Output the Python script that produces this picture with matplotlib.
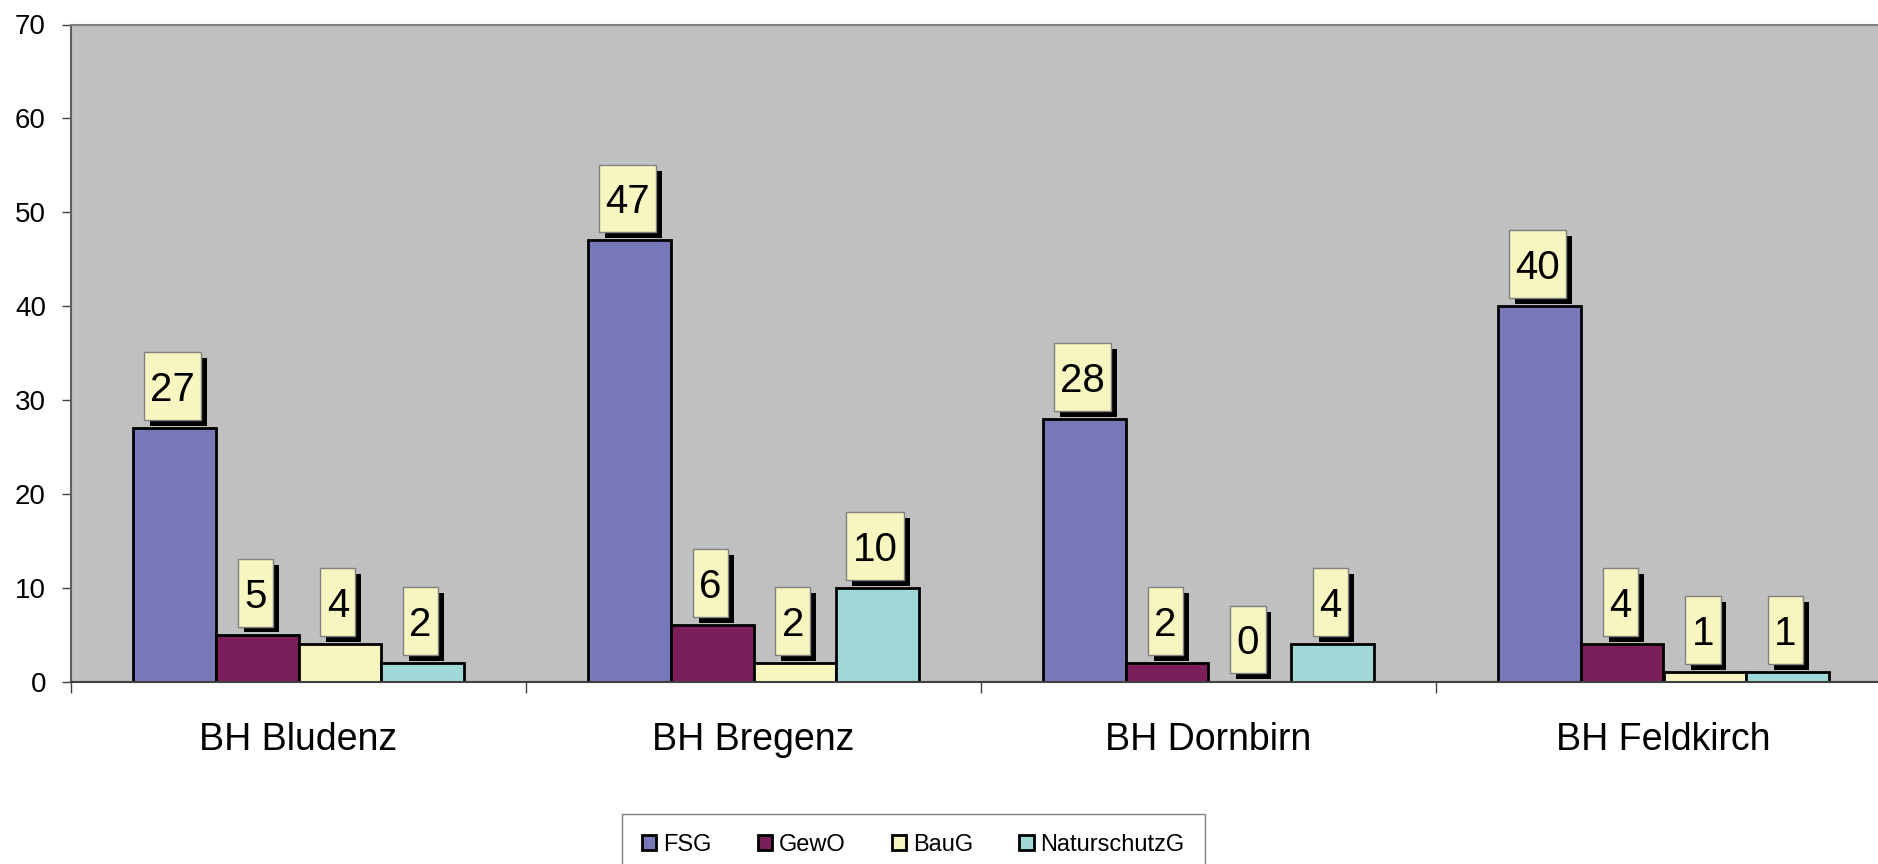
import matplotlib.pyplot as plt
import matplotlib.patheffects as pe
from matplotlib.path import Path
import numpy as np

plt.rcParams['font.family'] = ['Liberation Sans', 'DejaVu Sans']

categories = ['BH Bludenz', 'BH Bregenz', 'BH Dornbirn', 'BH Feldkirch']
series = ['FSG', 'GewO', 'BauG', 'NaturschutzG']
fsg = [27, 47, 28, 40]
gewo = [5, 6, 2, 4]
baug = [4, 2, 0, 1]
natur = [2, 10, 4, 1]
colors = ['#7878B8', '#7B1F5A', '#F8F6C0', '#A0D8D8']


def label_box(x0, y0, width, height, mutation_size):
    # tall box around the digits, like the old Excel data labels
    ms = mutation_size
    px = 0.16 * ms
    cy = y0 + 0.21 * ms + 0.358 * ms
    hh = 0.84 * ms
    return Path([(x0 - px, cy - hh), (x0 + width + px, cy - hh),
                 (x0 + width + px, cy + hh), (x0 - px, cy + hh),
                 (x0 - px, cy - hh)], closed=True)


fig = plt.figure(figsize=(18.78, 8.64), dpi=100)
ax = fig.add_axes([71 / 1878, 182.5 / 864, 1820 / 1878, 657 / 864])
ax.set_facecolor('#C0C0C0')

x = np.arange(len(categories))
bw = 0.1816
handles = []
for i, (name, vals) in enumerate(zip(series, [fsg, gewo, baug, natur])):
    pos = x + (i - 1.5) * bw
    b = ax.bar(pos, vals, width=bw, color=colors[i], edgecolor='black', linewidth=2, label=name)
    handles.append(b)
    for px, v in zip(pos, vals):
        t = ax.annotate(str(v), (px, v), xytext=(-2, 27), textcoords='offset pixels',
                        ha='center', va='baseline', fontsize=29, color='black',
                        bbox=dict(boxstyle=label_box, fc='#F8F6C0', ec='#808080', lw=1))
        t.get_bbox_patch().set_path_effects([
            pe.SimplePatchShadow(offset=(4.3, -4.3), shadow_rgbFace='black', alpha=1),
            pe.Normal()])

ax.set_xlim(-0.5, len(categories) - 0.5)
ax.set_ylim(0, 70)
ax.set_yticks(range(0, 71, 10))
ax.tick_params(axis='y', labelsize=20, length=6.5, width=1, color='#404040', pad=11.5)
ax.set_xticks(x)
ax.set_xticklabels(categories, fontsize=27)
ax.tick_params(axis='x', which='major', length=0, pad=29)
ax.set_xticks(np.arange(-0.5, len(categories), 1), minor=True)
ax.tick_params(axis='x', which='minor', length=8, width=1, color='#404040')

for s in ['top', 'right']:
    ax.spines[s].set_color('#808080')
    ax.spines[s].set_linewidth(1.5)
ax.spines['left'].set_color('#606060')
ax.spines['bottom'].set_color('#404040')
ax.spines['left'].set_linewidth(1.5)
ax.spines['bottom'].set_linewidth(1.5)

leg = fig.legend(handles=handles, labels=series, loc='upper center',
                 bbox_to_anchor=(913.5 / 1878, 1 - 814 / 864), ncol=4, fontsize=17,
                 frameon=True, fancybox=False, handlelength=0.6, handleheight=0.6,
                 columnspacing=1.95, handletextpad=0.3, borderpad=0.85, borderaxespad=0)
leg.get_frame().set_edgecolor('#606060')
leg.get_frame().set_linewidth(1)
for h in leg.legend_handles:
    h.set_linewidth(2)

fig.savefig('out.png', dpi=100)
